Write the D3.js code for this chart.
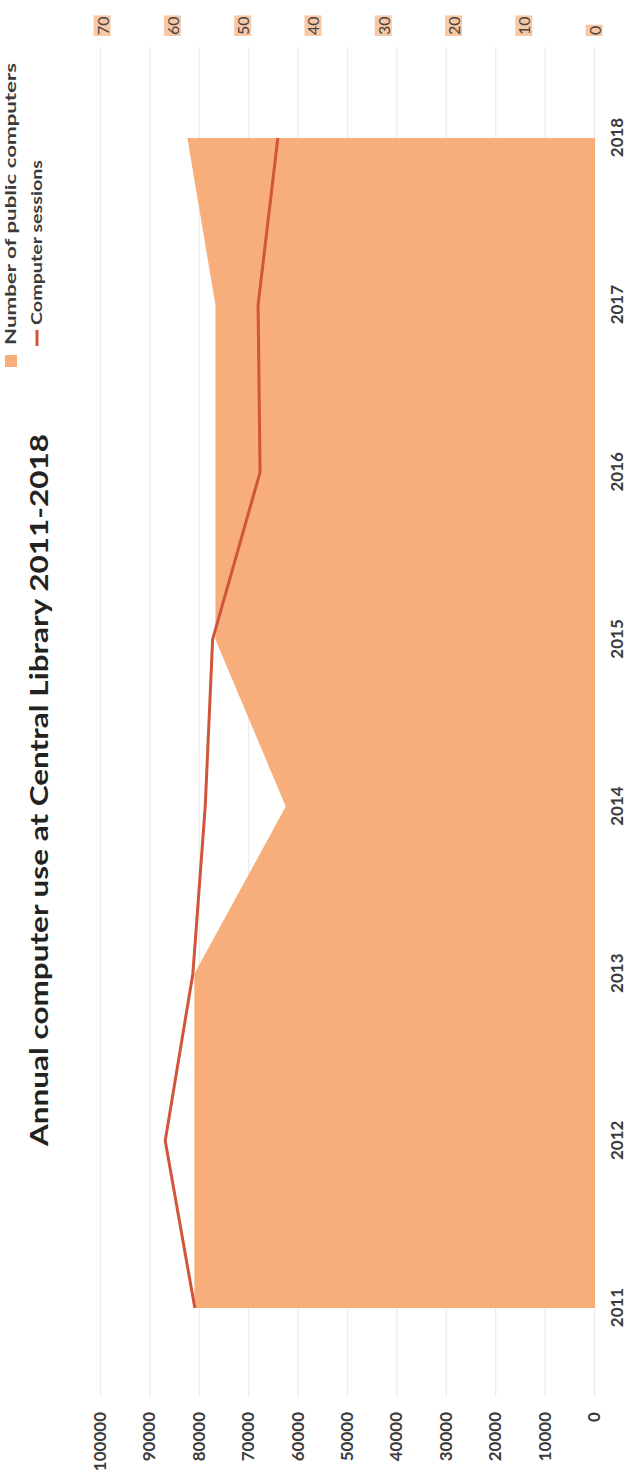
<!DOCTYPE html>
<html>
<head>
<meta charset="utf-8">
<script src="https://cdn.jsdelivr.net/npm/d3@7"></script>
<style>
  body { margin: 0; background: #ffffff; }
  text { font-family: "Lato", "DejaVu Sans", sans-serif; }
</style>
</head>
<body>
<svg id="chart" width="631" height="1484"></svg>
<script>
// ---- data ----
const years = [2011, 2012, 2013, 2014, 2015, 2016, 2017, 2018];
const computers = [57, 57, 57, 44, 54, 54, 54, 58];
const sessions = [80800, 86800, 81200, 78700, 77200, 67600, 68000, 64000];
const sessionTicks = [0, 10000, 20000, 30000, 40000, 50000, 60000, 70000, 80000, 90000, 100000];
const computerTicks = [0, 10, 20, 30, 40, 50, 60, 70];
const titleText = "Annual computer use at Central Library 2011-2018";
const legendLabels = ["Number of public computers", "Computer sessions"];

// ---- layout (chart laid out landscape, then turned a quarter turn) ----
const W = 1484, H = 631;
const plotLeft = 87, plotRight = 1437;
const areaColor = "#f8ae7a";
const lineColor = "#d0553a";
const textColor = "#3b3b3b";

const svg = d3.select("#chart");
const g = svg.append("g").attr("transform", `translate(0,${W}) rotate(-90)`);

const x = d3.scalePoint().domain(years).range([176, 1346]);
const ySessions = d3.scaleLinear().domain([0, 100000]).range([594, 100]);
const yComputers = d3.scaleLinear().domain([0, 70]).range([595, 103]);

// gridlines + left axis labels
const leftAxis = g.append("g")
  .attr("transform", `translate(${plotLeft},0)`)
  .call(d3.axisLeft(ySessions)
    .tickValues(sessionTicks)
    .tickSize(-(plotRight - plotLeft))
    .tickPadding(15)
    .tickFormat(d3.format("d")));
leftAxis.select(".domain").remove();
leftAxis.selectAll(".tick line").attr("stroke", "#ececec").attr("stroke-width", 1.2);
leftAxis.selectAll(".tick text")
  .attr("fill", textColor)
  .style("font-size", "17px")
  .style("font-weight", "700");

// area: number of public computers
const area = d3.area()
  .x((d, i) => x(years[i]))
  .y0(yComputers(0))
  .y1(d => yComputers(d));
g.append("path")
  .datum(computers)
  .attr("d", area)
  .attr("fill", areaColor);

// line: computer sessions
const line = d3.line()
  .x((d, i) => x(years[i]))
  .y(d => ySessions(d));
g.append("path")
  .datum(sessions)
  .attr("d", line)
  .attr("fill", "none")
  .attr("stroke", lineColor)
  .attr("stroke-width", 3)
  .attr("stroke-linejoin", "round");

// category axis (years)
const bottomAxis = g.append("g")
  .attr("transform", "translate(0,600)")
  .call(d3.axisBottom(x).tickSize(0).tickPadding(11).tickFormat(d3.format("d")));
bottomAxis.select(".domain").remove();
bottomAxis.selectAll(".tick text")
  .attr("fill", textColor)
  .style("font-size", "17px")
  .style("font-weight", "700");

// right axis (computers) with highlighted labels
const rightAxis = g.append("g")
  .attr("transform", "translate(1449,0)")
  .call(d3.axisRight(yComputers).tickValues(computerTicks).tickSize(0).tickPadding(0));
rightAxis.select(".domain").remove();
rightAxis.selectAll(".tick text")
  .attr("fill", "#444")
  .style("font-size", "16px")
  .style("font-weight", "400");
rightAxis.selectAll(".tick").each(function () {
  const t = d3.select(this).select("text");
  const b = t.node().getBBox();
  d3.select(this).insert("rect", "text")
    .attr("x", b.x - 1).attr("y", b.y + 1)
    .attr("width", b.width + 2).attr("height", b.height - 2)
    .attr("fill", "#f6b486").attr("opacity", 0.75);
});

// title
g.append("text")
  .attr("x", 694).attr("y", 48)
  .attr("text-anchor", "middle")
  .attr("fill", "#222")
  .attr("textLength", 712)
  .attr("lengthAdjust", "spacingAndGlyphs")
  .style("font-size", "25px")
  .style("font-weight", "700")
  .text(titleText);

// legend
const legend = g.append("g");
legend.append("rect")
  .attr("x", 1117).attr("y", 5).attr("width", 12).attr("height", 12)
  .attr("fill", areaColor);
legend.append("text")
  .attr("x", 1139).attr("y", 16)
  .attr("fill", textColor)
  .attr("textLength", 282)
  .attr("lengthAdjust", "spacingAndGlyphs")
  .style("font-size", "15px").style("font-weight", "700")
  .text(legendLabels[0]);
legend.append("line")
  .attr("x1", 1138).attr("x2", 1154).attr("y1", 37).attr("y2", 37)
  .attr("stroke", lineColor).attr("stroke-width", 3);
legend.append("text")
  .attr("x", 1159).attr("y", 42)
  .attr("fill", textColor)
  .attr("textLength", 165)
  .attr("lengthAdjust", "spacingAndGlyphs")
  .style("font-size", "15px").style("font-weight", "700")
  .text(legendLabels[1]);
</script>
</body>
</html>
